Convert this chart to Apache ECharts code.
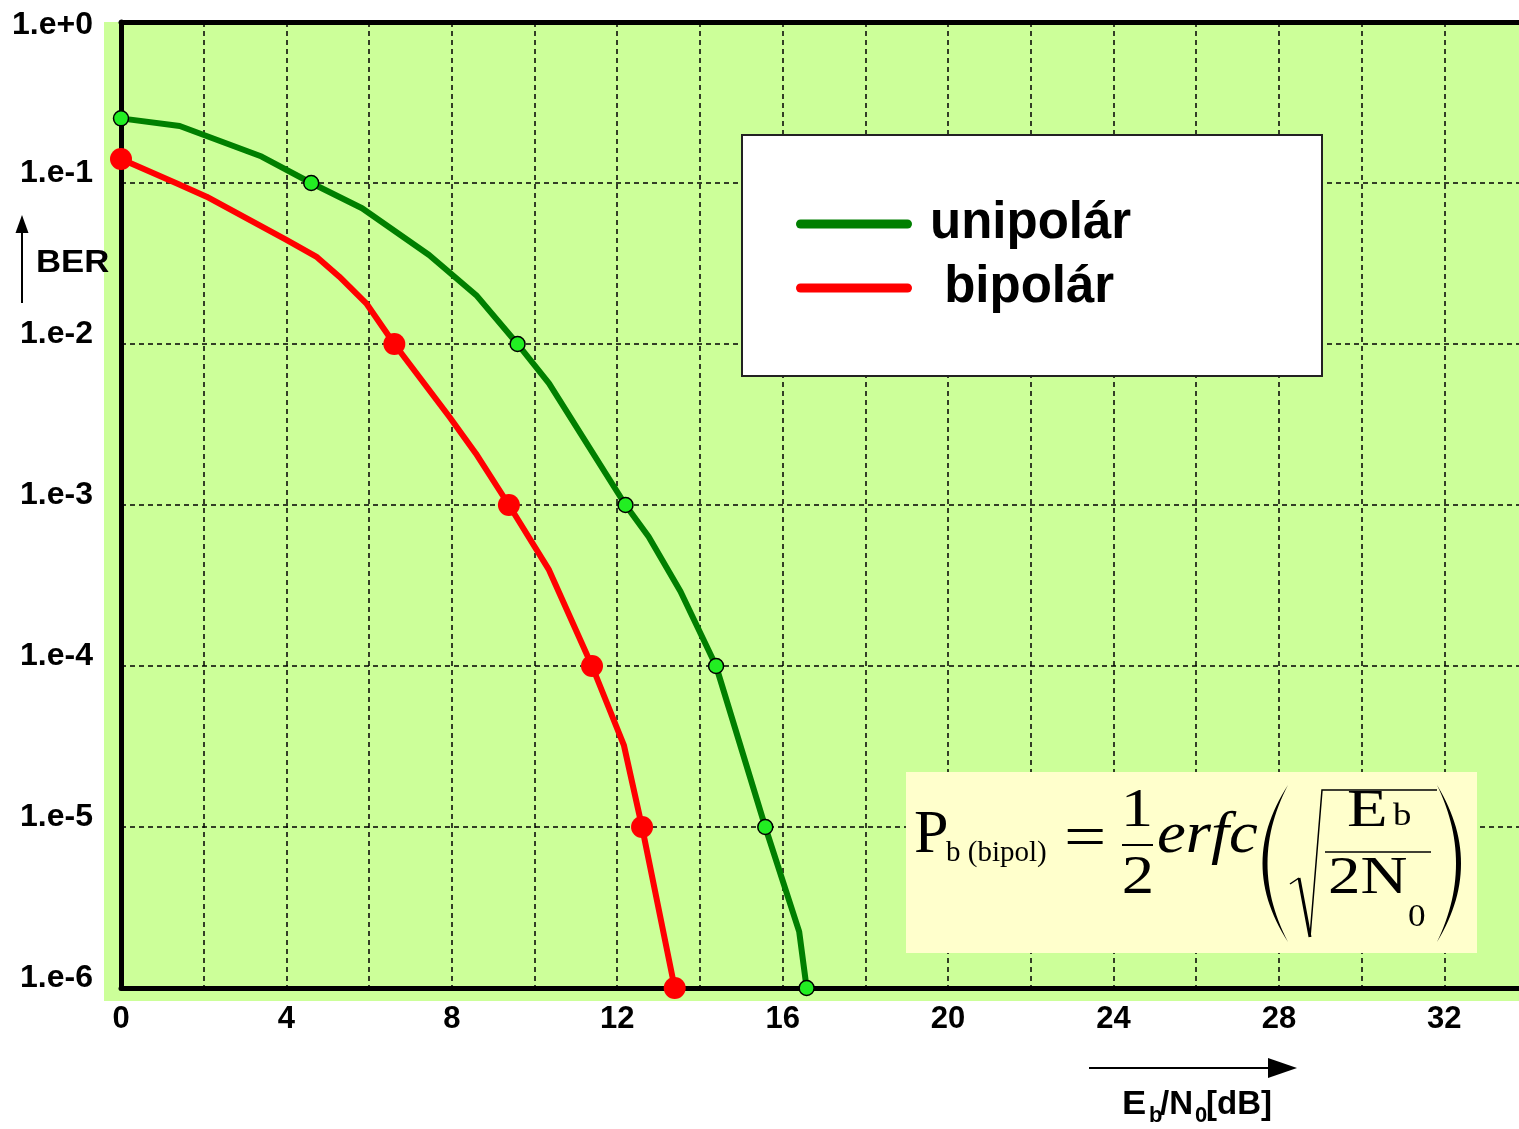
<!DOCTYPE html>
<html>
<head>
<meta charset="utf-8">
<script src="https://cdn.jsdelivr.net/npm/echarts@6/dist/echarts.min.js"></script>
<style>
html,body{margin:0;padding:0;background:#fff;overflow:hidden;}
#chart{width:1530px;height:1129px;}
</style>
</head>
<body>
<div id="chart"></div>
<script>
// ---- data ----
const unipolarX   = [0, 1.42, 3.40, 4.60, 5.83, 7.45, 8.59, 9.59, 10.35, 12.20, 12.76, 13.53, 14.39, 15.58, 16.40, 16.58];
const unipolarBER = [0.252, 0.226, 0.146, 0.1, 0.0697, 0.0357, 0.0201, 0.01, 0.0057, 0.001, 6.35e-4, 2.9e-4, 1e-4, 1e-5, 2.24e-6, 1e-6];
const unipolarMarkX   = [0, 4.60, 9.59, 12.20, 14.39, 15.58, 16.58];
const unipolarMarkBER = [0.252, 0.1, 0.01, 0.001, 1e-4, 1e-5, 1e-6];

const bipolarX   = [0, 1.34, 2.07, 4.00, 4.72, 5.28, 5.93, 6.61, 7.94, 8.58, 9.38, 10.35, 11.39, 12.16, 12.60, 13.39];
const bipolarBER = [0.141, 0.0995, 0.0822, 0.0443, 0.0349, 0.0262, 0.0179, 0.01, 0.00353, 0.00209, 0.001, 3.95e-4, 1e-4, 3.23e-5, 1e-5, 1e-6];
const bipolarMarkX   = [0, 6.61, 9.38, 11.39, 12.60, 13.39];
const bipolarMarkBER = [0.141, 0.01, 0.001, 1e-4, 1e-5, 1e-6];

const xTickLabels = [0, 4, 8, 12, 16, 20, 24, 28, 32];
const yTickLabels = ['1.e+0', '1.e-1', '1.e-2', '1.e-3', '1.e-4', '1.e-5', '1.e-6'];
const seriesNames = ['unipolár', 'bipolár'];

const zip = (xs, ys) => xs.map((x, i) => [x, ys[i]]);

const SANS = '"Liberation Sans", Arial, sans-serif';
const SERIF = '"Liberation Serif", "Times New Roman", serif';
const GREEN = '#007f00', RED = '#ff0000';

function txt(text, x, y, font, align, sx) {
  return {
    type: 'text', x: x, y: y, z: 20, scaleX: sx || 1,
    style: {
      text: text, font: font, fill: '#000',
      textAlign: align || 'left', align: align || 'left',
      textVerticalAlign: 'middle', verticalAlign: 'middle'
    }
  };
}
// crescent-shaped bracket (decoration of the formula) as polygon
function bracket(xEnd, y0, y1, cOuter, cInner) {
  const pts = [];
  const N = 30;
  for (let i = 0; i <= N; i++) {
    const t = i / N, u = 1 - t;
    pts.push([u * u * xEnd + 2 * u * t * cOuter + t * t * xEnd, u * u * y0 + 2 * u * t * ((y0 + y1) / 2) + t * t * y1]);
  }
  for (let i = N; i >= 0; i--) {
    const t = i / N, u = 1 - t;
    pts.push([u * u * xEnd + 2 * u * t * cInner + t * t * xEnd, u * u * y0 + 2 * u * t * ((y0 + y1) / 2) + t * t * y1]);
  }
  return {type: 'polygon', z: 20, shape: {points: pts}, style: {fill: '#000'}};
}

const chart = echarts.init(document.getElementById('chart'), null, {renderer: 'canvas'});

const option = {
  backgroundColor: '#ffffff',
  animation: false,
  grid: {left: 121, right: 0, top: 22, bottom: 141, containLabel: false},
  xAxis: [{
    type: 'value', min: 0, max: 34, interval: 2,
    axisLine: {show: true, onZero: false, lineStyle: {color: '#000', width: 5}},
    axisTick: {show: false},
    splitLine: {show: true, lineStyle: {color: '#000', width: 1.5, type: [5, 4]}},
    axisLabel: {
      margin: 16, color: '#000', fontWeight: 'bold', fontSize: 31, fontFamily: SANS,
      formatter: v => (xTickLabels.indexOf(v) >= 0 ? String(v) : '')
    }
  }, {
    type: 'value', position: 'top', min: 0, max: 34, interval: 2,
    axisLine: {show: true, onZero: false, lineStyle: {color: '#000', width: 5}},
    axisTick: {show: false}, axisLabel: {show: false}, splitLine: {show: false}
  }],
  yAxis: {
    type: 'log', logBase: 10, min: 1e-6, max: 1,
    axisLine: {show: true, onZero: false, lineStyle: {color: '#000', width: 5}},
    axisTick: {show: false},
    splitLine: {show: true, lineStyle: {color: '#000', width: 1.5, type: [5, 4]}},
    axisLabel: {
      margin: 28, color: '#000', fontWeight: 'bold', fontSize: 32, fontFamily: SANS,
      formatter: v => {
        const e = Math.round(Math.log10(v));
        const s = yTickLabels[-e];
        if (s === undefined) return '';
        return e === 0 ? '{t|' + s + '}' : '{a|' + s + '}';
      },
      rich: {
        a: {fontWeight: 'bold', fontSize: 32, fontFamily: SANS, color: '#000', padding: [0, 0, 20, 0]},
        t: {fontWeight: 'bold', fontSize: 32, fontFamily: SANS, color: '#000', padding: [6, 0, 0, 0]}
      }
    }
  },
  legend: {
    show: true, orient: 'vertical', left: 796, top: 198, padding: 0, itemGap: 12,
    itemWidth: 116, itemHeight: 9, z: 10,
    icon: 'path://M4.5 0H111.5A4.5 4.5 0 0 1 111.5 9H4.5A4.5 4.5 0 0 1 4.5 0Z',
    data: [
      {name: seriesNames[0], itemStyle: {color: GREEN}},
      {name: seriesNames[1], itemStyle: {color: RED}}
    ],
    formatter: n => (n === seriesNames[1] ? ' ' + n : n),
    textStyle: {fontFamily: SANS, fontWeight: 'bold', fontSize: 51,
                color: '#000', lineHeight: 50, padding: [2, 0, 0, 13]}
  },
  series: [
    {name: seriesNames[0], type: 'line', data: zip(unipolarX, unipolarBER), showSymbol: false,
     symbol: 'none', clip: false, z: 3, color: GREEN,
     lineStyle: {color: GREEN, width: 6, cap: 'round', join: 'round'}},
    {name: seriesNames[1], type: 'line', data: zip(bipolarX, bipolarBER), showSymbol: false,
     symbol: 'none', clip: false, z: 3, color: RED,
     lineStyle: {color: RED, width: 6, cap: 'round', join: 'round'}},
    {name: 'unipolár body', type: 'scatter', data: zip(unipolarMarkX, unipolarMarkBER), symbolSize: 15,
     clip: false, z: 4, itemStyle: {color: '#22ee22', borderColor: '#000', borderWidth: 1.5, opacity: 1}},
    {name: 'bipolár body', type: 'scatter', data: zip(bipolarMarkX, bipolarMarkBER), symbolSize: 22,
     clip: false, z: 4, itemStyle: {color: RED, opacity: 1}}
  ],
  graphic: {
    elements: [
      {type: 'rect', z: -100, silent: true, shape: {x: 104, y: 22, width: 1426, height: 979},
       style: {fill: '#ccff99'}},
      {type: 'rect', z: 5, shape: {x: 742, y: 135, width: 580, height: 241},
       style: {fill: '#ffffff', stroke: '#222', lineWidth: 2}},
      {type: 'rect', z: 5, shape: {x: 906, y: 772, width: 571, height: 181},
       style: {fill: '#ffffcc'}},
      txt('P', 914, 836, '62px ' + SERIF),
      txt('b (bipol)', 946, 853, '29px ' + SERIF),
      txt('=', 1064, 840, '60px ' + SERIF, 'left', 1.25),
      txt('1', 1137, 812, '54px ' + SERIF, 'center', 1.2),
      {type: 'line', z: 20, shape: {x1: 1122, y1: 845, x2: 1153, y2: 845}, style: {stroke: '#000', lineWidth: 2}},
      txt('2', 1138, 879, '54px ' + SERIF, 'center', 1.2),
      txt('erfc', 1157, 836, 'italic 60px ' + SERIF, 'left', 1.08),
      bracket(1288, 785, 942, 1237, 1247),
      bracket(1437, 785, 942, 1485, 1475),
      {type: 'polyline', z: 20, shape: {points: [[1290, 884], [1299, 878]]}, style: {stroke: '#000', lineWidth: 1.5, fill: null}},
      {type: 'line', z: 20, shape: {x1: 1299, y1: 878, x2: 1310, y2: 937}, style: {stroke: '#000', lineWidth: 3}},
      {type: 'polyline', z: 20, shape: {points: [[1310, 937], [1322, 790], [1437, 790]]}, style: {stroke: '#000', lineWidth: 1.5, fill: null}},
      txt('E', 1347, 812, '52px ' + SERIF, 'left', 1.28),
      txt('b', 1393, 817, '32px ' + SERIF, 'left', 1.15),
      {type: 'line', z: 20, shape: {x1: 1325, y1: 852, x2: 1431, y2: 852}, style: {stroke: '#000', lineWidth: 1.5}},
      txt('2N', 1328, 879, '52px ' + SERIF, 'left', 1.25),
      txt('0', 1408, 918, '32px ' + SERIF, 'left', 1.1),
      {type: 'line', z: 20, shape: {x1: 22, y1: 303, x2: 22, y2: 228}, style: {stroke: '#000', lineWidth: 2}},
      {type: 'polygon', z: 20, shape: {points: [[22, 215], [15.5, 233], [28.5, 233]]}, style: {fill: '#000'}},
      txt('BER', 36, 263, 'bold 31px ' + SANS, 'left', 1.12),
      {type: 'line', z: 20, shape: {x1: 1089, y1: 1068, x2: 1275, y2: 1068}, style: {stroke: '#000', lineWidth: 2}},
      {type: 'polygon', z: 20, shape: {points: [[1297, 1068], [1268, 1058], [1268, 1078]]}, style: {fill: '#000'}},
      txt('E', 1122, 1105, 'bold 33px ' + SANS, 'left', 1.1),
      txt('b', 1149, 1116, 'bold 22px ' + SANS),
      txt('/N', 1160, 1105, 'bold 33px ' + SANS),
      txt('0', 1195, 1116, 'bold 22px ' + SANS),
      txt('[dB]', 1206, 1105, 'bold 33px ' + SANS)
    ]
  }
};
chart.setOption(option);
</script>
</body>
</html>
